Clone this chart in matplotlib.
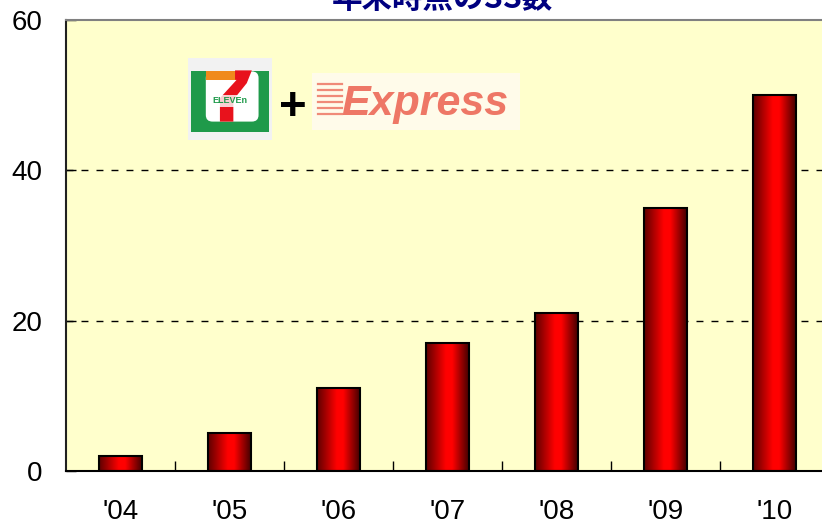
import numpy as np
import matplotlib
matplotlib.use("Agg")
import matplotlib.pyplot as plt
from matplotlib.colors import LinearSegmentedColormap
from matplotlib.patches import Rectangle, Polygon, FancyBboxPatch
from matplotlib.lines import Line2D

# ============================
# Datos
# ============================
years = ["'04", "'05", "'06", "'07", "'08", "'09", "'10"]
ss_count = [2, 5, 11, 17, 21, 35, 50]
yticks = [0, 20, 40, 60]
title = "年末時点のSS数"

W, H = 822, 525
plt.rcParams['font.family'] = ['Liberation Sans', 'DejaVu Sans']


def fx(px):
    return px / W


def fy(py):
    return 1 - py / H


fig = plt.figure(figsize=(W / 100, H / 100), dpi=100)
fig.patch.set_facecolor('white')

# ejes: izquierda en 66 px, 109 px por categoria (el borde derecho queda fuera)
ax = fig.add_axes([fx(66), fy(471), fx(763), (471 - 20) / H])
ax.set_facecolor('#FFFFCC')

x = np.arange(len(years))
bars = ax.bar(x, ss_count, width=0.40, facecolor='none', edgecolor='black',
              linewidth=1.5, zorder=3)

# degradado horizontal en cada barra
cmap = LinearSegmentedColormap.from_list(
    'barra', [(0, '#5e0000'), (0.45, '#ff0000'), (0.6, '#ff0000'), (1, '#3a0000')])
grad = np.linspace(0, 1, 128).reshape(1, -1)
for b in bars:
    bx, bw, bh = b.get_x(), b.get_width(), b.get_height()
    ax.imshow(grad, cmap=cmap, aspect='auto', extent=[bx, bx + bw, 0, bh],
              zorder=2, interpolation='bilinear')

ax.set_xlim(-0.5, len(years) - 0.5)
ax.set_ylim(0, 60)

# grilla
for yv in yticks[1:-1]:
    ax.axhline(yv, color='black', linewidth=1.0, dashes=(5, 5.8), zorder=1)

ax.set_yticks(yticks)
ax.set_yticklabels([str(v) for v in yticks], fontsize=20)
ax.tick_params(axis='y', direction='in', length=7, width=1, pad=17)
ax.set_xticks(x)
ax.set_xticklabels(years, fontsize=20)
ax.tick_params(axis='x', which='major', length=0, pad=20)
ax.set_xticks(x[:-1] + 0.5, minor=True)
ax.tick_params(axis='x', which='minor', direction='in', length=7, width=1)

ax.spines['top'].set_color('#808080')
ax.spines['top'].set_linewidth(1.5)
ax.spines['left'].set_color('#202020')
ax.spines['left'].set_linewidth(1.5)
ax.spines['bottom'].set_linewidth(1.5)
ax.spines['right'].set_visible(False)

# titulo (cortado arriba como en el original)
fig.text(fx(442), fy(8), title, ha='center', va='baseline', fontsize=22,
         fontweight='bold', color='#000080',
         family=['Noto Sans CJK JP', 'DejaVu Sans'])

# ============================
# Logo 7-Eleven (aproximado)
# ============================
lg = fig.add_axes([fx(188), fy(140), fx(84), 82 / H])
lg.set_xlim(0, 1)
lg.set_ylim(0, 1)
lg.axis('off')


def p(z):
    return (z - 25) / 250


def q(z):
    return 1 - (z - 25) / 245


lg.add_patch(Rectangle((0, 0), 1, 1, facecolor='#f2f2f2', edgecolor='none'))
lg.add_patch(Rectangle((p(35), q(245)), p(265) - p(35), q(65) - q(245),
                       facecolor='#1f9a4a', edgecolor='none'))
lg.add_patch(FancyBboxPatch((p(78), q(215)), p(235) - p(78), q(65) - q(215),
                            boxstyle='round,pad=0,rounding_size=0.08',
                            facecolor='white', edgecolor='none'))
lg.add_patch(Rectangle((p(80), q(90)), p(172) - p(80), q(63) - q(90),
                       facecolor='#f08a1c', edgecolor='none'))
lg.add_patch(Polygon([(p(165), q(62)), (p(215), q(62)), (p(200), q(100)),
                      (p(160), q(150)), (p(160), q(215)), (p(120), q(215)),
                      (p(120), q(145)), (p(170), q(90)), (p(165), q(90))],
                     closed=True, facecolor='#e8121c', edgecolor='none'))
lg.add_patch(Rectangle((p(78), q(170)), p(222) - p(78), q(135) - q(170),
                       facecolor='white', edgecolor='none', alpha=0.8))
lg.text(p(150), q(153), 'ELEVEn', ha='center', va='center', fontsize=6.5,
        fontweight='bold', color='#1f9a4a')

# signo +
fig.text(fx(293), fy(108), '+', ha='center', va='center', fontsize=34,
         fontweight='bold', color='black')

# ============================
# Logo Express (aproximado)
# ============================
fig.patches.append(Rectangle((fx(312), fy(130)), fx(208), 57 / H,
                             transform=fig.transFigure, facecolor='#fffbea',
                             edgecolor='none', figure=fig))
for ly in [84, 90, 96, 102, 108, 114]:
    fig.lines.append(Line2D([fx(318), fx(342)], [fy(ly), fy(ly)],
                            transform=fig.transFigure, color='#f08a78',
                            linewidth=1.6, figure=fig))
fig.text(fx(341), fy(115), 'Express', ha='left', va='baseline', fontsize=31,
         fontweight='bold', fontstyle='italic', color='#ee7766')

fig.savefig('out.png', dpi=100)
